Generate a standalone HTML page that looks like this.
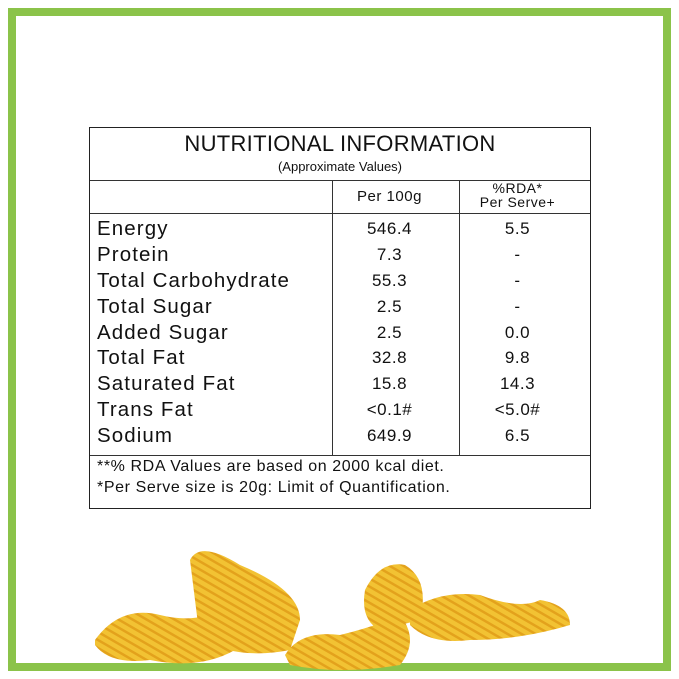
<!DOCTYPE html>
<html><head><style>
body{margin:0;width:679px;height:679px;background:#fff;position:relative;overflow:hidden;font-family:"Liberation Sans",sans-serif;color:#111}
.frame{position:absolute;left:8px;top:8px;width:647px;height:647px;border:8px solid #8bc34a}
.t{position:absolute;left:89px;top:127px;width:500px;height:380px;border:1px solid #222}
.h{position:absolute;background:#333}
.a{position:absolute;white-space:nowrap}
.l{left:7px;font-size:20.5px;letter-spacing:1.1px}
.v1{left:236px;width:127px;text-align:center;font-size:17px;letter-spacing:0.5px}
.v2{left:362px;width:131px;text-align:center;font-size:17px;letter-spacing:0.5px}
</style></head><body>
<div class="frame"></div>
<svg style="position:absolute;left:0;top:0" width="679" height="679">
<defs><pattern id="s" width="7" height="7" patternUnits="userSpaceOnUse" patternTransform="rotate(30)"><rect width="7" height="7" fill="#f2c233"/><rect width="7" height="2.5" fill="#e3a21c"/></pattern></defs>
<path d="M190 560 Q200 540 240 565 Q300 590 300 620 L290 650 Q240 660 200 640 Z" fill="url(#s)"/>
<path d="M95 640 Q120 605 160 615 Q200 625 230 605 Q250 600 235 650 Q200 670 150 660 Q110 665 95 645Z" fill="url(#s)"/>
<path d="M285 655 Q300 630 340 635 Q380 625 400 615 Q420 640 400 665 Q340 675 290 665Z" fill="url(#s)"/>
<path d="M365 590 Q380 560 405 565 Q430 580 420 620 L380 630 Q360 620 365 590Z" fill="url(#s)"/>
<path d="M410 610 Q440 590 480 595 Q520 610 540 600 Q570 605 570 625 Q520 640 470 640 Q430 645 410 625Z" fill="url(#s)"/>
</svg>
<div class="t">
<div class="h" style="left:0;top:52px;width:500px;height:1px"></div>
<div class="h" style="left:0;top:85px;width:500px;height:1px"></div>
<div class="h" style="left:0;top:327px;width:500px;height:1px"></div>
<div class="h" style="left:242px;top:52px;width:1px;height:275px"></div>
<div class="h" style="left:369px;top:52px;width:1px;height:275px"></div>
<div class="a" style="left:0;width:500px;text-align:center;top:3px;font-size:22px;letter-spacing:0.3px">NUTRITIONAL INFORMATION</div>
<div class="a" style="left:0;width:500px;text-align:center;top:31px;font-size:13px">(Approximate Values)</div>
<div class="a v1" style="top:60px;font-size:15px">Per 100g</div>
<div class="a v2" style="top:53px;font-size:14px;line-height:14px">%RDA*<br>Per Serve+</div>
<div class="a l" style="top:89px">Energy</div><div class="a v1" style="top:91px">546.4</div><div class="a v2" style="top:91px">5.5</div>
<div class="a l" style="top:115px">Protein</div><div class="a v1" style="top:117px">7.3</div><div class="a v2" style="top:117px">-</div>
<div class="a l" style="top:141px">Total Carbohydrate</div><div class="a v1" style="top:143px">55.3</div><div class="a v2" style="top:143px">-</div>
<div class="a l" style="top:167px">Total Sugar</div><div class="a v1" style="top:169px">2.5</div><div class="a v2" style="top:169px">-</div>
<div class="a l" style="top:193px">Added Sugar</div><div class="a v1" style="top:195px">2.5</div><div class="a v2" style="top:195px">0.0</div>
<div class="a l" style="top:218px">Total Fat</div><div class="a v1" style="top:220px">32.8</div><div class="a v2" style="top:220px">9.8</div>
<div class="a l" style="top:244px">Saturated Fat</div><div class="a v1" style="top:246px">15.8</div><div class="a v2" style="top:246px">14.3</div>
<div class="a l" style="top:270px">Trans Fat</div><div class="a v1" style="top:272px">&lt;0.1#</div><div class="a v2" style="top:272px">&lt;5.0#</div>
<div class="a l" style="top:296px">Sodium</div><div class="a v1" style="top:298px">649.9</div><div class="a v2" style="top:298px">6.5</div>
<div class="a" style="left:7px;top:330px;font-size:16px;letter-spacing:0.6px">**% RDA Values are based on 2000 kcal diet.</div>
<div class="a" style="left:7px;top:351px;font-size:16px;letter-spacing:0.6px">*Per Serve size is 20g: Limit of Quantification.</div>
</div>
</body></html>
